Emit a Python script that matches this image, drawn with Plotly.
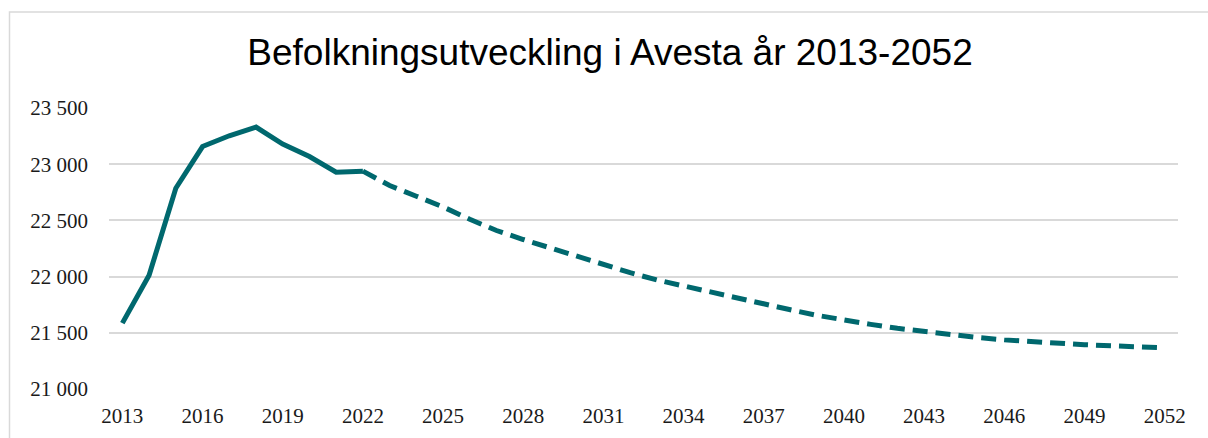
import plotly.graph_objects as go

title_text = "Befolkningsutveckling i Avesta år 2013-2052"

years_hist = list(range(2013, 2023))
pop_hist = [21586, 22012, 22786, 23157, 23253, 23330, 23179, 23068, 22929, 22938]

years_proj = list(range(2022, 2053))
pop_proj = [22938, 22810, 22715, 22620, 22510, 22410, 22330, 22255, 22175, 22100,
            22035, 21970, 21915, 21862, 21810, 21758, 21705, 21655, 21612, 21575,
            21540, 21510, 21483, 21458, 21437, 21420, 21406, 21394, 21384, 21375,
            21367]

x_ticks = list(range(2013, 2053, 3))
y_ticks = [21000, 21500, 22000, 22500, 23000, 23500]

line_color = "#00686E"

fig = go.Figure()
fig.add_trace(go.Scatter(x=years_hist, y=pop_hist, mode="lines",
                         line=dict(color=line_color, width=5), hoverinfo="x+y"))
fig.add_trace(go.Scatter(x=years_proj, y=pop_proj, mode="lines",
                         line=dict(color=line_color, width=5, dash="15px,8px"), hoverinfo="x+y"))

fig.update_layout(
    width=1208, height=438,
    margin=dict(l=109, r=30, t=108, b=49),
    paper_bgcolor="white", plot_bgcolor="white",
    showlegend=False,
    separators=", ",
    title=dict(text=title_text, x=0.505, xref="container", xanchor="center",
               y=1 - 52 / 438, yref="container", yanchor="middle",
               font=dict(family="Liberation Sans, Arial", size=37, color="black")),
    xaxis=dict(range=[2012.5, 2052.5], tickvals=x_ticks, showgrid=False, zeroline=False,
               showline=False, ticks="", ticklabelstandoff=12, automargin=False,
               tickfont=dict(family="Liberation Serif, Times New Roman", size=21, color="#1a1a1a")),
    yaxis=dict(range=[21000, 23500], tickvals=y_ticks, tickformat=",d", showgrid=True,
               gridcolor="#d9d9d9", gridwidth=1.5, zeroline=False, showline=False, ticks="",
               ticklabelstandoff=20, automargin=False,
               tickfont=dict(family="Liberation Serif, Times New Roman", size=21, color="#1a1a1a")),
    shapes=[dict(type="rect", xref="paper", yref="paper",
                 x0=(9.5 - 109) / 1069, x1=1.1, y0=-0.5, y1=(389 - 12.5) / 280.7,
                 line=dict(color="#d9d9d9", width=1.5), fillcolor="rgba(0,0,0,0)", layer="below")],
)

fig.write_html("out.html", config={"displayModeBar": False},
               post_script="document.body.style.margin='0';document.body.style.overflow='hidden';")
